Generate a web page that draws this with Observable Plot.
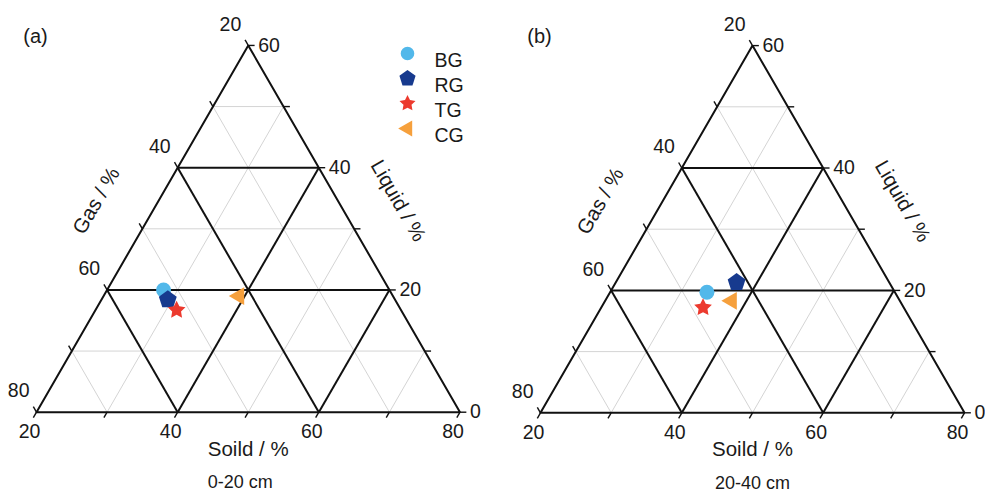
<!DOCTYPE html>
<html><head><meta charset="utf-8">
<script src="https://cdn.jsdelivr.net/npm/d3@7"></script>
<script src="https://cdn.jsdelivr.net/npm/@observablehq/plot@0.6"></script>
<style>
body{margin:0;background:#fff;}
#wrap{display:flex;width:985px;height:492px;overflow:hidden;}
#wrap svg{overflow:visible;display:block;}
</style></head><body><div id="wrap"></div>
<script>
// ---- data ----
const groups = ["BG", "RG", "TG", "CG"];
const colors = ["#52B8EA", "#173A8E", "#EC3A2E", "#F6A03C"];
// Panel (a) 0-20 cm
const soilA = [28.0, 29.4, 31.5, 39.2];
const liquidA = [20.0, 18.4, 16.7, 19.0];
const gasA = [52.0, 52.2, 51.8, 41.8];
// Panel (b) 20-40 cm
const soilB = [33.7, 37.1, 34.4, 37.9];
const liquidB = [19.7, 21.3, 17.2, 18.3];
const gasB = [46.6, 41.6, 48.4, 43.8];
// axes
const soilTicks = [20, 30, 40, 50, 60, 70, 80];
const liquidTicks = [0, 10, 20, 30, 40, 50, 60];
const gasTicks = [20, 30, 40, 50, 60, 70, 80];
const soilLabels = [20, 40, 60, 80];
const liquidLabels = [0, 20, 40, 60];
const gasLabels = [20, 40, 60, 80];
const soilMajor = [40, 60], liquidMajor = [20, 40], gasMajor = [40, 60];
const soilMinor = [30, 50, 70], liquidMinor = [10, 30, 50], gasMinor = [30, 50, 70];

// ---- ternary helpers (Soil 20-80, Liquid 0-60, Gas 20-80) ----
const R3 = Math.sqrt(3) / 2;
const tx = (s, l) => (s - 20) + l / 2;
const ty = (l) => l * R3;

const soilLine = v => ({x1: tx(v, 0), y1: ty(0), x2: tx(v, 80 - v), y2: ty(80 - v)});
const liquidLine = v => ({x1: tx(20, v), y1: ty(v), x2: tx(80 - v, v), y2: ty(v)});
const gasLine = v => ({x1: tx(20, 80 - v), y1: ty(80 - v), x2: tx(100 - v, 0), y2: ty(0)});

function sym(fn) {
  return {draw(ctx, size) { fn(ctx, Math.sqrt(size / Math.PI)); }};
}
const symbols = {
  BG: sym((c, r) => { const R = r; c.moveTo(R, 0); c.arc(0, 0, R, 0, 2 * Math.PI); c.closePath(); }),
  RG: sym((c, r) => { const R = r * 1.25; for (let i = 0; i < 5; i++) { const a = -Math.PI / 2 + i * 2 * Math.PI / 5; const px = R * Math.cos(a), py = R * Math.sin(a); i ? c.lineTo(px, py) : c.moveTo(px, py); } c.closePath(); }),
  TG: sym((c, r) => { const R = r * 1.24, ri = R * 0.5; for (let i = 0; i < 10; i++) { const a = -Math.PI / 2 + i * Math.PI / 5; const rr = i % 2 ? ri : R; const px = rr * Math.cos(a), py = rr * Math.sin(a); i ? c.lineTo(px, py) : c.moveTo(px, py); } c.closePath(); }),
  CG: sym((c, r) => { const R = r * 1.37; c.moveTo(-R, 0); c.lineTo(R * 0.5, -R * 0.866); c.lineTo(R * 0.5, R * 0.866); c.closePath(); })
};

const FONT = "'Liberation Sans', Arial, Helvetica, sans-serif";
const INK = "#1a1a1a";

function panel({soil, liquid, gas, width, W, bottom, tag, depth, depthDx, legend}) {
  const H = W * R3;
  const pts = groups.map((g, i) => ({group: g, color: colors[i], soil: soil[i], liquid: liquid[i], gas: gas[i]}));
  const t = 0.9; // tick length in data units
  const marks = [
    // minor grid
    Plot.link([...soilMinor.map(soilLine), ...liquidMinor.map(liquidLine), ...gasMinor.map(gasLine)],
      {x1: "x1", y1: "y1", x2: "x2", y2: "y2", stroke: "#d4d4d4", strokeWidth: 1}),
    // major grid
    Plot.link([...soilMajor.map(soilLine), ...liquidMajor.map(liquidLine), ...gasMajor.map(gasLine)],
      {x1: "x1", y1: "y1", x2: "x2", y2: "y2", stroke: "#111", strokeWidth: 2}),
    // outline
    Plot.line([[20, 0], [80, 0], [20, 60], [20, 0]], {x: d => tx(d[0], d[1]), y: d => ty(d[1]), stroke: "#111", strokeWidth: 2, strokeLinejoin: "miter"}),
    // ticks
    Plot.link(soilTicks, {x1: v => tx(v, 0), y1: 0, x2: v => tx(v, 0) - t * 0.5, y2: -t * R3, stroke: "#111", strokeWidth: 1.4}),
    Plot.link(liquidTicks, {x1: v => tx(80 - v, v), y1: v => ty(v), x2: v => tx(80 - v, v) + t, y2: v => ty(v), stroke: "#111", strokeWidth: 1.4}),
    Plot.link(gasTicks, {x1: v => tx(20, 80 - v), y1: v => ty(80 - v), x2: v => tx(20, 80 - v) - t * 0.5, y2: v => ty(80 - v) + t * R3, stroke: "#111", strokeWidth: 1.4}),
    // tick labels
    Plot.text(soilLabels, {x: v => tx(v, 0), y: 0, text: d => String(d), dx: -7, dy: 20, textAnchor: "middle", fontSize: 19.5, fill: INK}),
    Plot.text(liquidLabels, {x: v => tx(80 - v, v), y: v => ty(v), text: d => String(d), dx: 10, dy: 0, textAnchor: "start", fontSize: 19.5, fill: INK}),
    Plot.text(gasLabels, {x: v => tx(20, 80 - v), y: v => ty(80 - v), text: d => String(d), dx: -7, dy: -21, textAnchor: "end", fontSize: 19.5, fill: INK}),
    // axis titles
    Plot.text(["Soild / %"], {x: tx(50, 0), y: 0, text: d => d, dy: 37, textAnchor: "middle", fontSize: 20.5, fill: INK}),
    Plot.text(["Gas / %"], {x: tx(20, 30), y: ty(30), text: d => d, dx: -46, dy: -28, rotate: -60, textAnchor: "middle", fontSize: 20.5, fill: INK}),
    Plot.text(["Liquid / %"], {x: tx(50, 30), y: ty(30), text: d => d, dx: 44, dy: -28, rotate: 60, textAnchor: "middle", fontSize: 20.5, fill: INK}),
    Plot.text([depth], {x: tx(50, 0), y: 0, text: d => d, dx: depthDx, dy: 70, textAnchor: "middle", fontSize: 18, fill: INK}),
    Plot.text([tag], {frameAnchor: "top-left", text: d => d, dx: 35, dy: 28, textAnchor: "middle", fontSize: 20, fill: INK}),
    // data points
    ...pts.map(p => Plot.dot([p], {x: d => tx(d.soil, d.liquid), y: d => ty(d.liquid), symbol: symbols[p.group], fill: p.color, stroke: "none", r: 7.5}))
  ];
  if (legend) {
    groups.forEach((g, i) => {
      marks.push(Plot.dot([g], {frameAnchor: "top-left", dx: 407, dy: 53 + 25 * i, symbol: symbols[g], fill: colors[i], stroke: "none", r: 6.8}));
      marks.push(Plot.text([g], {frameAnchor: "top-left", text: d => d, dx: 434, dy: 53 + 25 * i, textAnchor: "start", fontSize: 19.5, fill: INK}));
    });
  }
  return Plot.plot({
    width, height: 492, margin: 0,
    x: {domain: [0, 60], range: [36, 36 + W], axis: null},
    y: {domain: [0, 60 * R3], range: [bottom, bottom - H], axis: null},
    style: {fontFamily: FONT, background: "transparent", overflow: "visible"},
    marks
  });
}

const wrap = document.getElementById("wrap");
wrap.append(panel({soil: soilA, liquid: liquidA, gas: gasA, width: 504, W: 423.5, bottom: 411.7, tag: "(a)", depth: "0-20 cm", depthDx: -8, legend: true}));
wrap.append(panel({soil: soilB, liquid: liquidB, gas: gasB, width: 481, W: 424, bottom: 412.3, tag: "(b)", depth: "20-40 cm", depthDx: 0, legend: false}));
</script></body></html>
